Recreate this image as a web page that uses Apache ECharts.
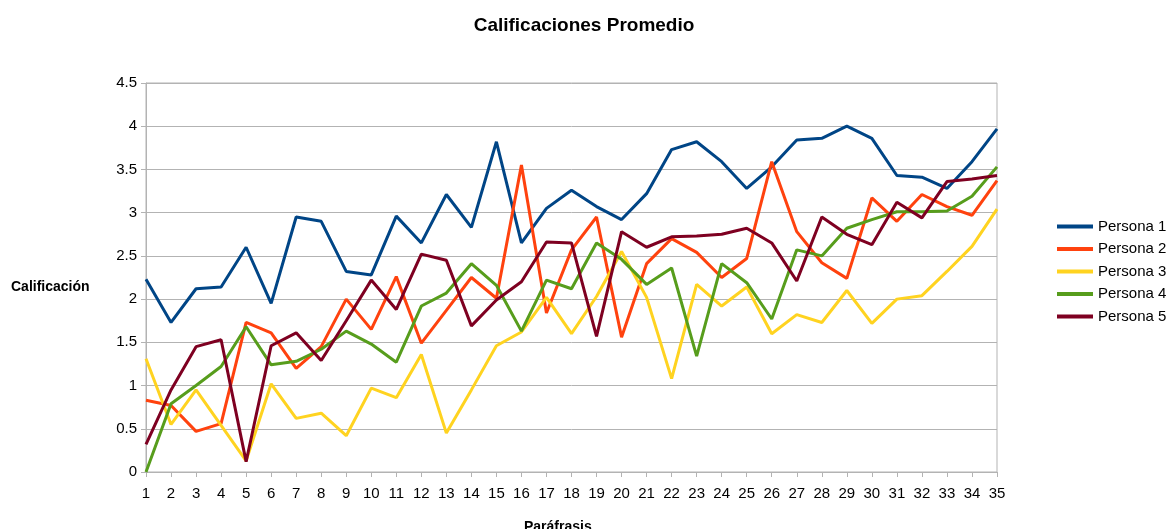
<!DOCTYPE html>
<html>
<head>
<meta charset="utf-8">
<title>Calificaciones Promedio</title>
<script src="https://cdn.jsdelivr.net/npm/echarts@6/dist/echarts.min.js"></script>
<style>
    html, body {
        margin: 0;
        padding: 0;
        background: #fff;
    }
    #chart {
        width: 1168px;
        height: 529px;
    }
</style>
</head>
<body>
<div id="chart"></div>
<script>
// paráfrasis 1..35
const parafrasis = [];
for (let i = 1; i <= 35; i++) parafrasis.push(String(i));

const seriesNames = ['Persona 1', 'Persona 2', 'Persona 3', 'Persona 4', 'Persona 5'];
const colors = ['#004586', '#ff420e', '#ffd320', '#579d1c', '#7e0021'];

const persona1 = [2.23, 1.73, 2.12, 2.14, 2.60, 1.95, 2.95, 2.90, 2.32, 2.28, 2.96, 2.65, 3.21, 2.83, 3.82, 2.65, 3.05, 3.26,
    3.07, 2.92, 3.22, 3.73, 3.82, 3.59, 3.28, 3.53, 3.84, 3.86, 4.00, 3.86, 3.43, 3.41, 3.28, 3.59, 3.97];
const persona2 = [0.83, 0.77, 0.47, 0.56, 1.73, 1.61, 1.20, 1.45, 2.00, 1.65, 2.26, 1.49, 1.87, 2.25, 2.01, 3.55, 1.84, 2.57,
    2.95, 1.56, 2.41, 2.70, 2.54, 2.25, 2.47, 3.59, 2.78, 2.42, 2.24, 3.17, 2.90, 3.21, 3.07, 2.97, 3.37];
const persona3 = [1.31, 0.55, 0.95, 0.54, 0.13, 1.02, 0.62, 0.68, 0.42, 0.97, 0.86, 1.36, 0.45, 0.95, 1.46, 1.62, 2.02, 1.60,
    2.03, 2.55, 2.02, 1.08, 2.17, 1.92, 2.14, 1.60, 1.82, 1.73, 2.10, 1.72, 2.00, 2.04, 2.32, 2.61, 3.04];
const persona4 = [0.00, 0.79, 1.00, 1.22, 1.68, 1.24, 1.28, 1.42, 1.63, 1.48, 1.27, 1.92, 2.07, 2.41, 2.16, 1.63, 2.22, 2.12,
    2.65, 2.46, 2.17, 2.36, 1.34, 2.41, 2.19, 1.77, 2.57, 2.50, 2.82, 2.92, 3.01, 3.01, 3.02, 3.19, 3.53];
const persona5 = [0.32, 0.95, 1.45, 1.53, 0.12, 1.46, 1.61, 1.29, 1.75, 2.22, 1.88, 2.52, 2.45, 1.69, 1.99, 2.20, 2.66, 2.65,
    1.57, 2.78, 2.60, 2.72, 2.73, 2.75, 2.82, 2.65, 2.21, 2.95, 2.75, 2.63, 3.12, 2.94, 3.36, 3.39, 3.43];

const allData = [persona1, persona2, persona3, persona4, persona5];

const font = '"Liberation Sans", Arial, sans-serif';
const gridColor = '#b3b3b3';

const myChart = echarts.init(document.getElementById('chart'));
myChart.setOption({
    animation: false,
    textStyle: {
        fontFamily: font
    },
    title: {
        text: 'Calificaciones Promedio',
        left: 'center',
        top: 11,
        textStyle: {
            fontSize: 19,
            fontWeight: 'bold',
            color: '#000'
        }
    },
    legend: {
        orient: 'vertical',
        left: 1057,
        top: 219,
        padding: 0,
        icon: 'rect',
        itemWidth: 36,
        itemHeight: 4,
        itemGap: 7.5,
        data: seriesNames,
        textStyle: {
            fontSize: 15,
            lineHeight: 15,
            color: '#000'
        }
    },
    grid: {
        left: 146,
        right: 171,
        top: 83,
        bottom: 57,
        show: true,
        borderColor: gridColor,
        borderWidth: 1
    },
    xAxis: {
        type: 'category',
        data: parafrasis,
        boundaryGap: false,
        axisLine: {
            lineStyle: { color: gridColor }
        },
        axisTick: {
            alignWithLabel: true,
            length: 5,
            lineStyle: { color: gridColor }
        },
        axisLabel: {
            margin: 14,
            fontSize: 15,
            color: '#000',
            interval: 0
        }
    },
    yAxis: {
        type: 'value',
        min: 0,
        max: 4.5,
        interval: 0.5,
        axisLine: {
            show: true,
            lineStyle: { color: gridColor }
        },
        axisTick: {
            show: true,
            length: 5,
            lineStyle: { color: gridColor }
        },
        axisLabel: {
            margin: 9,
            fontSize: 15,
            color: '#000'
        },
        splitLine: {
            lineStyle: { color: gridColor }
        }
    },
    graphic: [{
        type: 'text',
        left: 11,
        top: 280,
        style: {
            text: 'Calificación',
            font: 'bold 14px ' + font,
            fill: '#000'
        }
    }, {
        type: 'text',
        left: 524,
        top: 520,
        style: {
            text: 'Paráfrasis',
            font: 'bold 14px ' + font,
            fill: '#000'
        }
    }],
    series: seriesNames.map((name, i) => ({
        name: name,
        type: 'line',
        data: allData[i],
        symbol: 'none',
        color: colors[i],
        lineStyle: {
            width: 3,
            color: colors[i]
        }
    }))
});
</script>
</body>
</html>
